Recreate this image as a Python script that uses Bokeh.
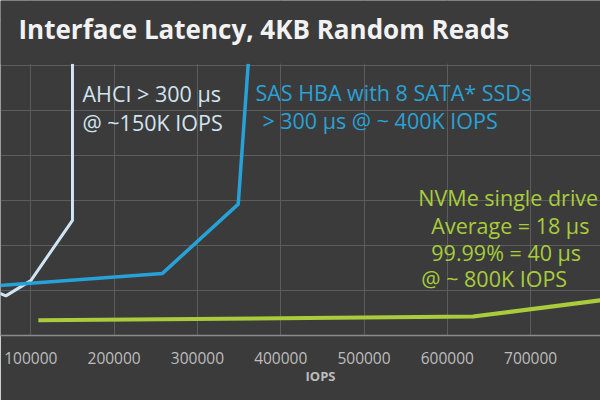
from bokeh.plotting import figure
from bokeh.models import (Range1d, Label, Grid, SingleIntervalTicker, FixedTicker,
                          BasicTickFormatter, Title, BoxAnnotation)
from bokeh.embed import file_html
from bokeh.resources import INLINE

# Data (IOPS vs latency in microseconds)
ahci_iops = [50000, 70000, 100000, 150000, 150000]
ahci_lat = [52, 44, 61, 128, 302]
sas_iops = [50000, 258000, 349000, 361000]
sas_lat = [54.7, 69, 146, 302]
nvme_iops = [109000, 631000, 800000]
nvme_lat = [17, 21, 41]
lat_grid = [50, 100, 150, 200, 250, 300]

FONT = "Open Sans"
BG = "#3b3b3b"

p = figure(width=600, height=400, output_backend="svg", toolbar_location=None,
           x_range=Range1d(63600, 783900), y_range=Range1d(0, 372.2),
           y_axis_location=None,
           min_border_left=0, min_border_right=0, min_border_top=0, min_border_bottom=65,
           background_fill_color=BG, border_fill_color=BG, outline_line_color=None)

p.add_layout(Title(text="IOPS", align="left", offset=305, text_font=FONT,
                   text_font_size="13px", text_font_style="bold",
                   text_color="#bdbdbd", standoff=0, vertical_align="top"), "below")

# grid
p.xaxis.ticker = SingleIntervalTicker(interval=100000)
p.xaxis.formatter = BasicTickFormatter(use_scientific=False)
p.xgrid.ticker = SingleIntervalTicker(interval=100000)
p.xgrid.grid_line_color = "#5c5c5c"
p.add_layout(Grid(dimension=1, ticker=FixedTicker(ticks=lat_grid), grid_line_color="#5c5c5c"))

ax = p.xaxis[0]
ax.axis_line_color = "#8a8a8a"
ax.axis_line_width = 1.5
ax.major_tick_line_color = None
ax.minor_tick_line_color = None
ax.major_label_text_color = "#bdbdbd"
ax.major_label_text_font = FONT
ax.major_label_text_font_size = "15.5px"
ax.major_label_standoff = 10

# lines
p.line(ahci_iops, ahci_lat, line_color="#cfe4f4", line_width=3)
p.line(sas_iops, sas_lat, line_color="#27a2d8", line_width=3.5)
p.line(nvme_iops, nvme_lat, line_color="#a9cb3c", line_width=4)

# plain band above the plotting area (title area)
p.add_layout(BoxAnnotation(bottom=302, fill_color=BG, fill_alpha=1.0, line_color=None))


def px2x(px):
    return (px + 53) * 1200.0


def px2y(py):
    return (335 - py) / 0.9


def add_text(txt, px, py, color, size="21.5px", style="normal"):
    p.add_layout(Label(x=px2x(px), y=px2y(py), text=txt, text_color=color,
                       text_font=FONT, text_font_size=size, text_align="left",
                       text_baseline="middle", text_font_style=style))


add_text("Interface Latency, 4KB Random Reads", 18, 29, "#f2f2f2", size="26px", style="bold")

ahci_c = "#d3e4f1"
add_text("AHCI > 300 µs", 82, 93, ahci_c)
add_text("@ ~150K IOPS", 82, 122, ahci_c)

sas_c = "#2ba1d6"
add_text("SAS HBA with 8 SATA* SSDs", 255, 92, sas_c)
add_text("> 300 µs @ ~ 400K IOPS", 262, 120, sas_c)

nv_c = "#a8cc3c"
add_text("NVMe single drive", 418, 197, nv_c)
add_text("Average = 18 µs", 431, 225, nv_c)
add_text("99.99% = 40 µs", 431, 252, nv_c)
add_text("@ ~ 800K IOPS", 421, 278, nv_c)

open("out.html", "w").write(file_html(p, INLINE))
